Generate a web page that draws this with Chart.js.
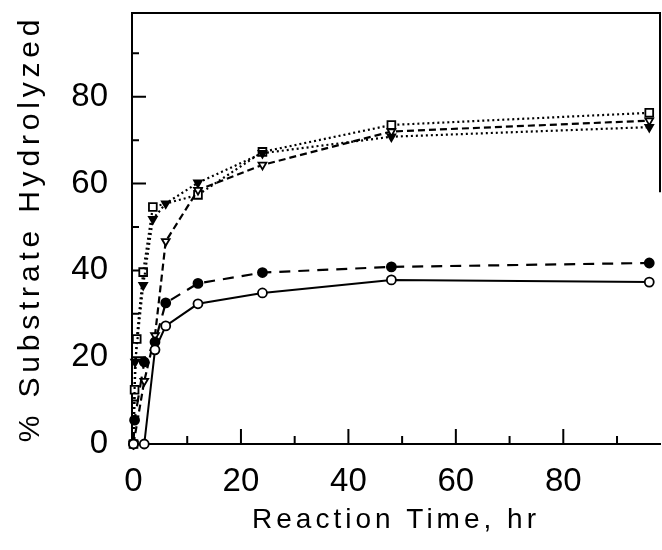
<!DOCTYPE html>
<html>
<head>
<meta charset="utf-8">
<title>Substrate hydrolyzed vs reaction time</title>
<script src="https://cdn.jsdelivr.net/npm/chart.js@4.4.1/dist/chart.umd.min.js"></script>
<style>
  html, body { margin: 0; padding: 0; background: #fff; }
</style>
</head>
<body>
<canvas id="hydrolysis" width="662" height="550"></canvas>
<script>
// values (hours, % hydrolyzed)
const squareTime = [0, 0.2, 0.6, 1.8, 3.6, 12, 24, 48, 96];
const squareVal  = [0, 12.5, 24.2, 39.6, 54.6, 57.4, 67.3, 73.5, 76.3];

const downFilledTime = [0, 0.3, 1.8, 3.6, 6, 12, 24, 48, 96];
const downFilledVal  = [0, 18.9, 36.6, 51.8, 55.4, 60.2, 67, 70.8, 73];

const downOpenTime = [0, 2, 4, 6, 12, 24, 48, 96];
const downOpenVal  = [0, 14.5, 25, 46.7, 58.5, 64.3, 72, 74.5];

const dotTime = [0, 0.2, 2, 4, 6, 12, 24, 48, 96];
const dotVal  = [0, 5.5, 18.9, 23.5, 32.5, 37, 39.5, 40.8, 41.7];

const circleTime = [0, 2, 4, 6, 12, 24, 48, 96];
const circleVal  = [0, 0, 21.7, 27.2, 32.3, 34.8, 37.8, 37.3];

const xLabelTicks = [0, 20, 40, 60, 80];
const yLabelTicks = [0, 20, 40, 60, 80];
const xMarkTicks = [10, 20, 30, 40, 50, 60, 70, 80, 90];
const yMarkTicks = [10, 20, 30, 40, 50, 60, 70, 80, 90];

function toPoints(xs, ys) {
    return xs.map((t, i) => ({x: t, y: ys[i]}));
}

// spaced-out lettering for the axis titles
const titleSpacing = { x: '4px', y: '4.8px' };
const baseDrawTitle = Chart.Scale.prototype.drawTitle;
Chart.Scale.prototype.drawTitle = function () {
    this.ctx.save();
    this.ctx.letterSpacing = titleSpacing[this.id] || '0px';
    baseDrawTitle.call(this);
    this.ctx.restore();
};

// fixed axis boxes, no label overhang padding
function fixBox(s) {
    if (s.isHorizontal()) {
        s.height = 106;
    } else {
        s.width = 132;
    }
    s.paddingTop = 0;
    s.paddingBottom = 0;
    s.paddingLeft = 0;
    s.paddingRight = 0;
}

// top/right frame and inward tick marks
const frameTicks = {
    id: 'frameTicks',
    beforeDatasetsDraw(chart) {
        const {ctx, chartArea, scales} = chart;
        const x = scales.x, y = scales.y;
        ctx.save();
        ctx.strokeStyle = '#000';
        ctx.lineWidth = 2;
        ctx.beginPath();
        ctx.moveTo(chartArea.left, chartArea.top);
        ctx.lineTo(chartArea.right, chartArea.top);
        ctx.lineTo(chartArea.right, y.getPixelForValue(58));
        xMarkTicks.forEach(v => {
            const px = x.getPixelForValue(v);
            const len = v % 20 === 0 ? 15 : 8;
            ctx.moveTo(px, chartArea.bottom);
            ctx.lineTo(px, chartArea.bottom - len);
        });
        yMarkTicks.forEach(v => {
            const py = y.getPixelForValue(v);
            const len = v % 20 === 0 ? 14 : 7;
            ctx.moveTo(chartArea.left, py);
            ctx.lineTo(chartArea.left + len, py);
        });
        ctx.stroke();
        ctx.restore();
    }
};

function series(xs, ys, style, fill, dash, width, rot) {
    return {
        data: toPoints(xs, ys),
        borderColor: '#000',
        borderWidth: width,
        borderDash: dash,
        tension: 0,
        clip: false,
        pointStyle: style,
        pointRotation: rot,
        pointRadius: style === 'rect' ? 5.5 : 4.5,
        pointBackgroundColor: fill,
        pointBorderColor: '#000',
        pointBorderWidth: 1.8
    };
}

const fontFamily = '"Liberation Sans", Arial, sans-serif';

new Chart(document.getElementById('hydrolysis'), {
    type: 'line',
    data: {
        datasets: [
            series(circleTime, circleVal, 'circle', '#fff', [], 2, 0),
            series(dotTime, dotVal, 'circle', '#000', [11, 8], 2.2, 0),
            series(downOpenTime, downOpenVal, 'triangle', '#fff', [7, 4], 2.2, 180),
            series(downFilledTime, downFilledVal, 'triangle', '#000', [2, 3], 2.2, 180),
            series(squareTime, squareVal, 'rect', '#fff', [2, 3], 2.2, 0)
        ]
    },
    options: {
        responsive: false,
        animation: false,
        devicePixelRatio: 1,
        layout: { autoPadding: false, padding: { top: 13, right: 2, left: 0, bottom: 0 } },
        plugins: { legend: { display: false }, tooltip: { enabled: false } },
        scales: {
            x: {
                type: 'linear',
                position: 'bottom',
                min: -0.28,
                max: 98.0,
                afterBuildTicks: s => { s.ticks = xLabelTicks.map(v => ({value: v})); },
                afterFit: fixBox,
                grid: { display: false, drawTicks: false },
                border: { display: true, color: '#000', width: 2 },
                ticks: { padding: 18, color: '#000', font: { family: fontFamily, size: 33 } },
                title: {
                    display: true,
                    text: 'Reaction Time, hr',
                    color: '#000',
                    font: { family: fontFamily, size: 28 },
                    padding: { top: 0, bottom: 13 }
                }
            },
            y: {
                type: 'linear',
                min: 0,
                max: 99.3,
                afterBuildTicks: s => { s.ticks = yLabelTicks.map(v => ({value: v})); },
                afterFit: fixBox,
                grid: { display: false, drawTicks: false },
                border: { display: true, color: '#000', width: 2 },
                ticks: { padding: 24, color: '#000', font: { family: fontFamily, size: 33 } },
                title: {
                    display: true,
                    text: '% Substrate Hydrolyzed',
                    color: '#000',
                    font: { family: fontFamily, size: 30 },
                    padding: { top: 13, bottom: 0 }
                }
            }
        }
    },
    plugins: [frameTicks]
});
</script>
</body>
</html>
